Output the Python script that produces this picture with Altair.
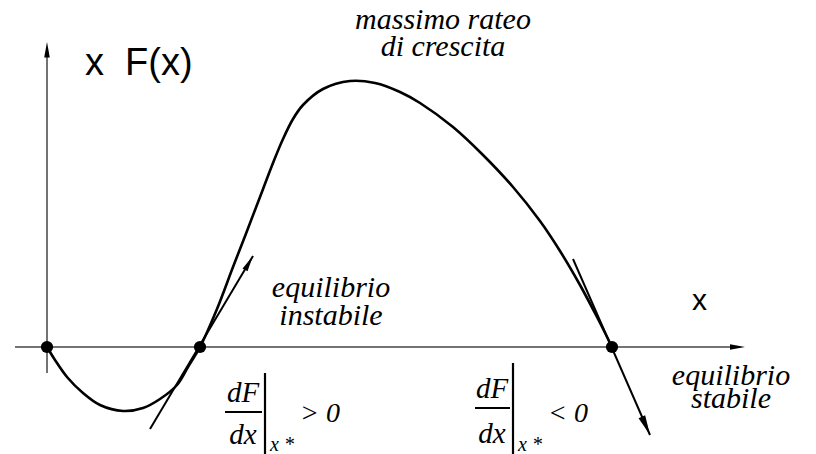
import altair as alt
import pandas as pd

# ---- data (schematic units: x along the axis, F = x F(x) value) ----
curve_x = [0, 8, 20, 36, 53, 76, 96, 113, 130, 141, 153, 170, 186, 200, 213, 226, 236,
           246, 256, 276, 303, 328, 353, 373, 406, 436, 466, 493, 513, 533, 550, 565]
curve_F = [0, -13, -30, -46, -58, -64, -61, -52, -38, -20, 0, 38, 80, 116, 150, 184, 208,
           228, 242, 258, 266, 264, 255, 244, 220, 192, 160, 126, 96, 62, 30, 0]

equilibria_x = [0, 153, 565]

# segments: axes, tangents, fraction bars
seg_x1 = [0, -32, 103, 526, 178, 428, 218, 466]
seg_F1 = [-26, 0, -82, 88, -65, -61, -26, -16]
seg_x2 = [0, 693, 206, 603, 215, 463, 218, 466]
seg_F2 = [300, 0, 91, -88, -65, -61, -107, -107]
seg_w = [1.5, 1.5, 2, 2, 2, 2, 2.2, 2.2]
seg_c = ["#444444", "#444444", "black", "black", "black", "black", "black", "black"]

# arrow heads (tip position, direction)
arr_x = [0, 698, 206, 603]
arr_F = [305, 0, 91, -88]
arr_angle = [0, 90, 30, 156]
arr_size = [240, 225, 256, 400]

# labels
sans_text = ["x\u00a0 F(x)", "x"]
sans_x = [38, 645]
sans_F = [272, 37]
sans_size = [38, 30]

note_text = ["massimo rateo\ndi crescita", "equilibrio\ninstabile", "equilibrio\nstabile"]
note_x = [396, 284, 684]
note_F = [318, 50, -38]
note_lh = [27, 28, 23]

frac_text = ["dF", "dx", "dF", "dx"]
frac_x = [196, 196, 445, 445]
frac_F = [-55, -97, -51, -96]

cmp_text = ["> 0", "< 0", "x *", "x *"]
cmp_x = [253, 501, 223, 471]
cmp_F = [-75, -75, -104, -104]
cmp_size = [28, 28, 20, 20]

SERIF = "Liberation Serif, Times New Roman, Times, serif"

# ---- tables ----
curve = pd.DataFrame({"x": curve_x, "F": curve_F})
eq = pd.DataFrame({"x": equilibria_x, "F": [0] * len(equilibria_x)})
segs = pd.DataFrame({"x1": seg_x1, "F1": seg_F1, "x2": seg_x2, "F2": seg_F2,
                     "w": seg_w, "c": seg_c})
arrows = pd.DataFrame({"x": arr_x, "F": arr_F, "angle": arr_angle, "size": arr_size})
sans = pd.DataFrame({"x": sans_x, "F": sans_F, "t": sans_text, "s": sans_size})
frac = pd.DataFrame({"x": frac_x, "F": frac_F, "t": frac_text})
cmp_ = pd.DataFrame({"x": cmp_x, "F": cmp_F, "t": cmp_text, "s": cmp_size})

xs = alt.Scale(domain=[-39, 761], nice=False, zero=False)
ys = alt.Scale(domain=[-107, 339], nice=False, zero=False)
X = lambda f: alt.X(f, type="quantitative", scale=xs, axis=None)
Y = lambda f: alt.Y(f, type="quantitative", scale=ys, axis=None)

seg_layer = alt.Chart(segs).mark_rule(strokeCap="butt").encode(
    x=X("x1"), y=Y("F1"), x2="x2", y2="F2",
    strokeWidth=alt.StrokeWidth("w:Q", scale=None),
    color=alt.Color("c:N", scale=None),
)

curve_layer = alt.Chart(curve).mark_line(
    color="black", strokeWidth=2.6, interpolate="catmull-rom"
).encode(x=X("x"), y=Y("F"))

arrow_layer = alt.Chart(arrows).mark_point(
    shape="M0,0L0.36,2L-0.36,2Z", filled=True, color="black", opacity=1
).encode(
    x=X("x"), y=Y("F"),
    angle=alt.Angle("angle:Q", scale=None),
    size=alt.Size("size:Q", scale=None),
)

dot_layer = alt.Chart(eq).mark_point(
    shape="circle", filled=True, color="black", size=150, opacity=1
).encode(x=X("x"), y=Y("F"))

sans_layer = alt.Chart(sans).mark_text(
    font="Liberation Sans, Arial, sans-serif", align="left", baseline="alphabetic",
    color="black"
).encode(x=X("x"), y=Y("F"), text="t:N", size=alt.Size("s:Q", scale=None))

note_layers = []
for i in range(len(note_text)):
    d = pd.DataFrame({"x": [note_x[i]], "F": [note_F[i]], "t": [note_text[i]]})
    note_layers.append(
        alt.Chart(d).mark_text(
            font=SERIF, fontStyle="italic", fontSize=30, lineBreak="\n",
            lineHeight=note_lh[i], align="center", baseline="alphabetic", color="black"
        ).encode(x=X("x"), y=Y("F"), text="t:N")
    )

frac_layer = alt.Chart(frac).mark_text(
    font=SERIF, fontStyle="italic", fontSize=29,
    align="center", baseline="alphabetic", color="black"
).encode(x=X("x"), y=Y("F"), text="t:N")

cmp_layer = alt.Chart(cmp_).mark_text(
    font=SERIF, fontStyle="italic",
    align="left", baseline="alphabetic", color="black"
).encode(x=X("x"), y=Y("F"), text="t:N", size=alt.Size("s:Q", scale=None))

chart = alt.layer(
    seg_layer, curve_layer, arrow_layer, dot_layer, sans_layer, *note_layers,
    frac_layer, cmp_layer
).properties(
    width=800, height=446,
    autosize=alt.AutoSizeParams(type="none"),
    padding=0,
    background="white",
).configure_view(stroke=None)

chart.save("out.html", embed_options={"renderer": "svg", "actions": False})
